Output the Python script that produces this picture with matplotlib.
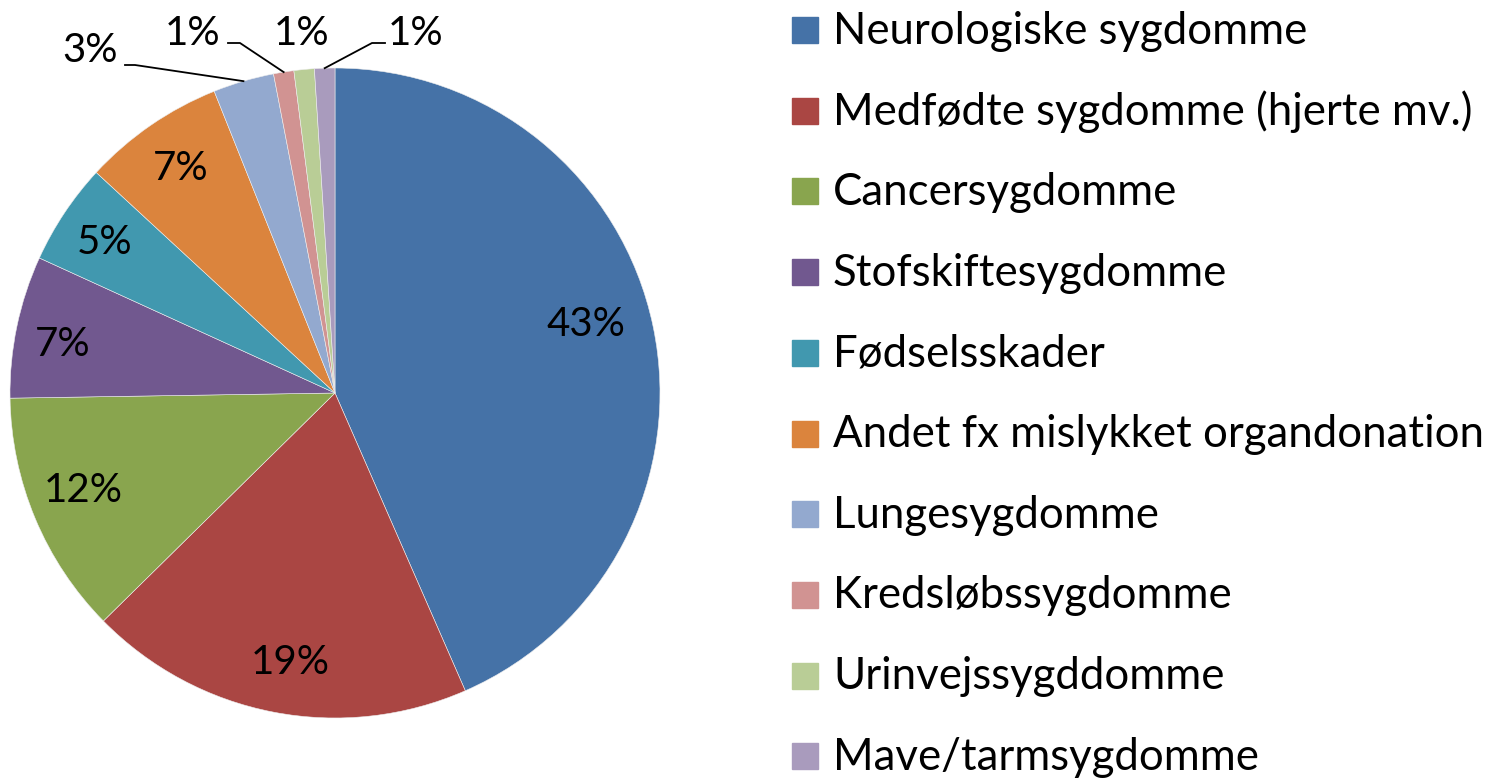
import matplotlib
matplotlib.use("Agg")
import matplotlib.pyplot as plt
import numpy as np

plt.rcParams['font.family'] = ['Lato', 'DejaVu Sans']

categories = ['Neurologiske sygdomme', 'Medfødte sygdomme (hjerte mv.)', 'Cancersygdomme',
              'Stofskiftesygdomme', 'Fødselsskader', 'Andet fx mislykket organdonation',
              'Lungesygdomme', 'Kredsløbssygdomme', 'Urinvejssygddomme', 'Mave/tarmsygdomme']
values = [43, 19, 12, 7, 5, 7, 3, 1, 1, 1]
labels = ['43%', '19%', '12%', '7%', '5%', '7%', '3%', '1%', '1%', '1%']
colors = ['#4572A7', '#AA4643', '#89A54E', '#71588F', '#4198AF',
          '#DB843D', '#93A9CF', '#D19392', '#B9CD96', '#A99BBD']

W, H = 1495, 778
fig = plt.figure(figsize=(W / 100, H / 100), dpi=100)
ax = fig.add_axes([0, 0, 1, 1])

cx, cy, R = 335, H - 393, 325
wedges, _ = ax.pie(values, colors=colors, startangle=90, counterclock=False,
                   center=(cx, cy), radius=R, frame=True,
                   wedgeprops=dict(linewidth=0.4, edgecolor='#eeeeee'))
ax.set_xlim(0, W)
ax.set_ylim(0, H)
ax.set_aspect('equal')
ax.axis('off')

fs = 29
total = sum(values)
cum = 0
mids = []
for v in values:
    mids.append(90 - (cum + v / 2) / total * 360)
    cum += v

# inside labels
rfac = [0.80, 0.84, 0.83, 0.85, 0.845, 0.84]
aoff = [3.5, 1.5, -1.5, 1.8, 0.5, 0]
for i in range(6):
    a = np.deg2rad(mids[i] + aoff[i])
    rr = rfac[i] * R
    ax.text(cx + rr * np.cos(a), cy + rr * np.sin(a), labels[i], fontsize=fs,
            ha='center', va='center')

# outside labels with leader lines
out_pos = [(90, H - 50), (193, H - 33), (302, H - 33), (416, H - 33)]
elbows = [(125, 135), (228, 240), None, (385, 372)]
for k, i in enumerate(range(6, 10)):
    a = np.deg2rad(mids[i])
    px, py = cx + R * np.cos(a), cy + R * np.sin(a)
    tx, ty = out_pos[k]
    ax.text(tx, ty, labels[i], fontsize=fs, ha='center', va='center')
    if elbows[k] is not None:
        x0, x1 = elbows[k]
        ly = ty - 15 if k == 0 else ty - 10
        ax.plot([x0, x1, px], [ly, ly, py], color='black', lw=1.3)

# legend
y0 = H - 30
step = 80.7
for i, name in enumerate(categories):
    y = y0 - i * step
    ax.add_patch(plt.Rectangle((792, y - 13), 26, 26, color=colors[i]))
    ax.text(833, y - 1, name, fontsize=31.5, ha='left', va='center')

fig.savefig('out.png', dpi=100)
